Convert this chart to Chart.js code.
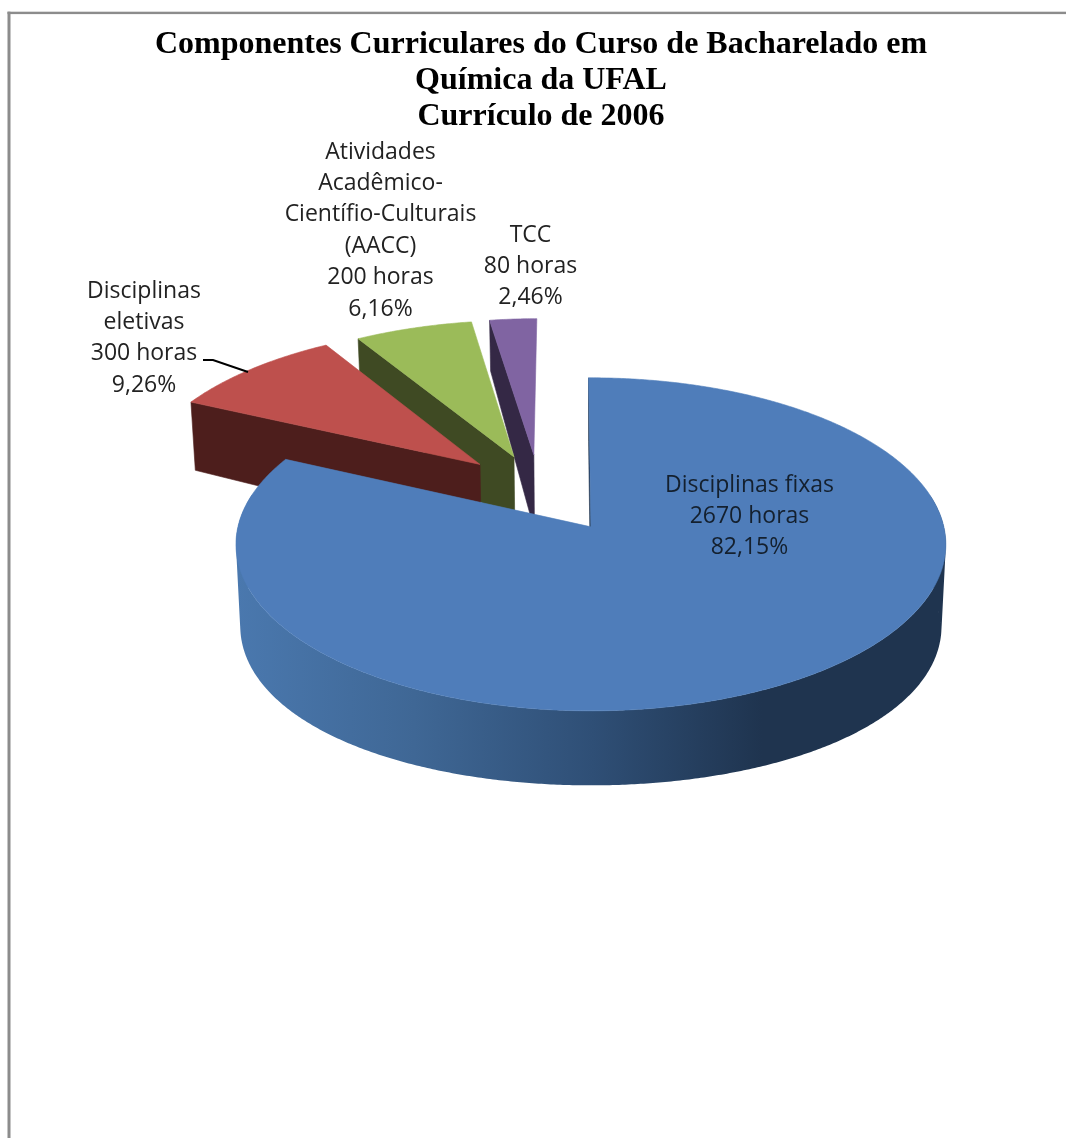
<!DOCTYPE html>
<html lang="pt">
<head>
<meta charset="utf-8">
<title>Componentes Curriculares</title>
<style>
  html, body { margin: 0; padding: 0; background: #fff; overflow: hidden; }
  canvas { display: block; }
</style>
<script src="https://cdn.jsdelivr.net/npm/chart.js@4/dist/chart.umd.min.js"></script>
</head>
<body>
<canvas id="pie" width="1066" height="1138"></canvas>
<script>
// Curriculum components and their workload
const titleLines = ["Componentes Curriculares do Curso de Bacharelado em", "Química da UFAL", "Currículo de 2006"];
const categories = ["Disciplinas fixas", "Disciplinas eletivas", "Atividades Acadêmico-Científio-Culturais (AACC)", "TCC"];
const categoryLines = [
  ["Disciplinas fixas"],
  ["Disciplinas", "eletivas"],
  ["Atividades", "Acadêmico-", "Científio-Culturais", "(AACC)"],
  ["TCC"]
];
const hours = [2670, 300, 200, 80];
const percentLabels = ["82,15%", "9,26%", "6,16%", "2,46%"];

// Slice styling
const topColors = ["#4f7dba", "#be504d", "#9bbb59", "#8064a2"];
const sideColors = ["#1f344f", "#4d1e1c", "#3f4a23", "#342845"];
const explodeOffsets = [112, 95, 89, 89];
const pieRadius = 400;

// Label layout: centre x and y of the first line, per slice
const labelAnchors = [[749.5, 485], [144, 291], [380.5, 152], [530.5, 235]];
const labelLeading = 31.4;
const labelColors = ["#14202e", "#222", "#222", "#222"];
const leaderLine = [[203, 360], [213, 360], [248, 372]];

// Perspective view of the pie's plane: u to the right, v away from the viewer
const view = { cx: 590, cy: 527, sx: 353, shiftU: -0.148, shiftV: 0.237 };
const topPlane = { sy: 164.7, drop: 0, persp: 0.105 };
const bottomPlane = { sy: 169, drop: 81, persp: 0.033 };
const bottomShrink = 0.012;

function project(u, v, plane) {
  const uu = u + view.shiftU, vv = v + view.shiftV;
  const widthDiv = 1 + topPlane.persp * vv + (plane === bottomPlane ? bottomShrink : 0);
  return [
    view.cx + view.sx * uu / widthDiv,
    view.cy + (plane.drop - plane.sy * vv) / (1 + plane.persp * vv)
  ];
}

function slicePlane(arc) {
  const { startAngle, endAngle, outerRadius, options } = arc;
  const mid = (startAngle + endAngle) / 2;
  const off = options.offset / outerRadius;
  const ou = Math.cos(mid) * off, ov = -Math.sin(mid) * off;
  const rim = [], facing = [];
  const n = Math.max(2, Math.ceil((endAngle - startAngle) / 0.008));
  for (let i = 0; i <= n; i++) {
    const a = startAngle + (endAngle - startAngle) * i / n;
    rim.push([ou + Math.cos(a), ov - Math.sin(a)]);
    facing.push(Math.sin(a) > -0.2);
  }
  return { apex: [ou, ov], rim, facing };
}

function tracePoly(ctx, pts) {
  pts.forEach((p, i) => i ? ctx.lineTo(p[0], p[1]) : ctx.moveTo(p[0], p[1]));
  ctx.closePath();
}

function fillPoly(ctx, pts, fill) {
  ctx.beginPath();
  tracePoly(ctx, pts);
  ctx.fillStyle = fill;
  ctx.strokeStyle = fill;
  ctx.lineWidth = 0.6;
  ctx.fill();
  ctx.stroke();
}

function signedArea(pts) {
  let s = 0;
  pts.forEach((p, i) => {
    const q = pts[(i + 1) % pts.length];
    s += p[0] * q[1] - q[0] * p[1];
  });
  return s;
}

const midAngle = arc => (arc.startAngle + arc.endAngle) / 2;

const pie3d = {
  id: "pie3d",
  beforeDraw(chart) {
    // Outer frame, open at the right and bottom
    const ctx = chart.ctx;
    ctx.save();
    ctx.fillStyle = "#fff";
    ctx.fillRect(0, 0, chart.width, chart.height);
    ctx.fillStyle = "#8c8c8c";
    ctx.fillRect(7.5, 11.7, chart.width - 7.5, 2.4);
    ctx.fillRect(7.5, 11.7, 3, chart.height - 11.7);
    ctx.restore();
  },
  beforeDatasetDraw(chart, args) {
    const ctx = chart.ctx;
    const arcs = args.meta.data;
    // Furthest slice first, so nearer slices paint over it
    const order = arcs.map((_, i) => i)
      .sort((a, b) => Math.sin(midAngle(arcs[a])) - Math.sin(midAngle(arcs[b])));
    const wallGradient = ctx.createLinearGradient(237, 0, 947, 0);
    wallGradient.addColorStop(0, "#4a78ae");
    wallGradient.addColorStop(0.25, "#3f6795");
    wallGradient.addColorStop(0.5, "#2f4f76");
    wallGradient.addColorStop(0.74, "#1f344f");
    wallGradient.addColorStop(1, "#1f344f");

    ctx.save();
    for (const i of order) {
      const { apex, rim, facing } = slicePlane(arcs[i]);
      const top = rim.map(p => project(p[0], p[1], topPlane));
      const bottom = rim.map(p => project(p[0], p[1], bottomPlane));
      const apexTop = project(apex[0], apex[1], topPlane);
      const apexBottom = project(apex[0], apex[1], bottomPlane);

      // Start cut face
      fillPoly(ctx, [apexTop, top[0], bottom[0], apexBottom], sideColors[i]);

      // Curved outer wall: same-handed strips in one path, so no seams show
      ctx.beginPath();
      for (let k = 0; k + 1 < top.length; k++) {
        if (!facing[k]) continue;
        const strip = [top[k], top[k + 1], bottom[k + 1], bottom[k]];
        tracePoly(ctx, signedArea(strip) < 0 ? strip.reverse() : strip);
      }
      ctx.fillStyle = i === 0 ? wallGradient : sideColors[i];
      ctx.fill();

      // Top face
      fillPoly(ctx, [apexTop].concat(top), topColors[i]);
    }
    ctx.restore();
    return false;
  },
  afterDatasetsDraw(chart) {
    const ctx = chart.ctx;
    ctx.save();
    ctx.strokeStyle = "#000";
    ctx.lineWidth = 2;
    ctx.beginPath();
    leaderLine.forEach((p, i) => i ? ctx.lineTo(p[0], p[1]) : ctx.moveTo(p[0], p[1]));
    ctx.stroke();
    ctx.font = "23px 'Open Sans'";
    ctx.textAlign = "center";
    ctx.textBaseline = "middle";
    categoryLines.forEach((lines, i) => {
      const all = lines.concat([hours[i] + " horas", percentLabels[i]]);
      ctx.fillStyle = labelColors[i];
      all.forEach((line, k) => ctx.fillText(line, labelAnchors[i][0], labelAnchors[i][1] + k * labelLeading));
    });
    ctx.restore();
  }
};

new Chart(document.getElementById("pie"), {
  type: "pie",
  data: {
    labels: categories,
    datasets: [{ data: hours, backgroundColor: topColors, offset: explodeOffsets, borderWidth: 0 }]
  },
  options: {
    responsive: false,
    animation: false,
    rotation: -0.4,
    radius: pieRadius,
    layout: { padding: { left: 16 } },
    plugins: {
      legend: { display: false },
      tooltip: { enabled: false },
      title: {
        display: true,
        text: titleLines,
        color: "#000",
        font: { family: "'Liberation Serif'", size: 32, weight: "bold", lineHeight: 1.125 },
        padding: { top: 27, bottom: 0 }
      }
    }
  },
  plugins: [pie3d]
});
</script>
</body>
</html>
